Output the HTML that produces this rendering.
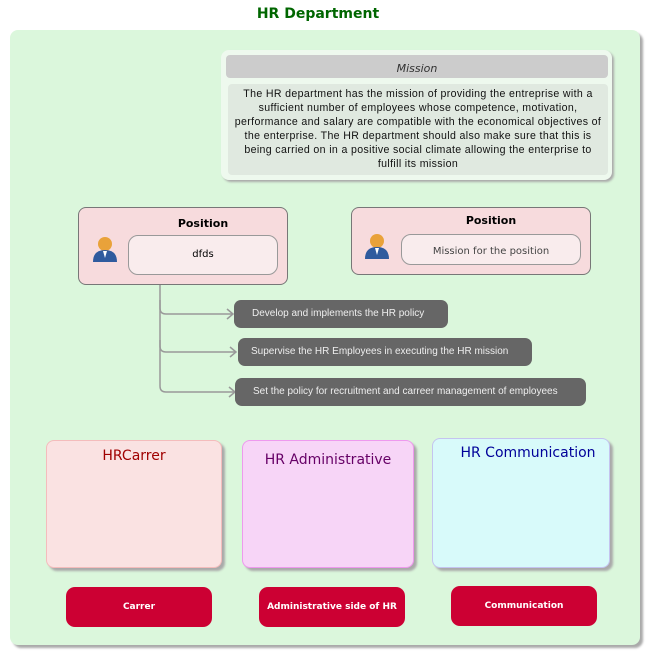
<!DOCTYPE html>
<html><head><style>
body{margin:0;width:655px;height:661px;background:#fff;font-family:"DejaVu Sans","Liberation Sans",sans-serif;position:relative;overflow:hidden}
div{position:absolute;box-sizing:border-box}
.t{text-align:center}
.pill{background:#666;color:#eee;border-radius:7px;font-family:"Liberation Sans",sans-serif;font-size:10px;line-height:27px;padding-left:18px;height:28px}
.big{border-radius:8px;box-shadow:3px 3px 2px #aaa}
.btn{background:#cc0033;color:#fff;border-radius:9px;font-weight:bold;font-size:9px;text-align:center;line-height:40px;height:40px;width:146px}
</style></head><body>
<div class="t" style="left:0;width:636px;top:6px;color:#006600;font-weight:bold;font-size:14px">HR Department</div>
<div style="left:10px;top:30px;width:630px;height:615px;background:#dbf7dc;border-radius:8px;box-shadow:3px 3px 2px #aaa"></div>
<div style="left:221px;top:50px;width:391px;height:130px;background:#eef9ee;border-radius:8px;box-shadow:2px 2px 2px #aaa"></div>
<div class="t" style="left:226px;top:55px;width:382px;height:23px;background:#ccc;border-radius:4px;font-style:italic;font-size:11px;line-height:28px;color:#333">Mission</div>
<div class="t" style="left:228px;top:84px;width:380px;height:91px;background:#e0e9e0;border-radius:4px;font-family:'Liberation Sans',sans-serif;font-size:10.6px;letter-spacing:0.35px;line-height:14px;padding:3px 5px 0;color:#111">The HR department has the mission of providing the entreprise with a sufficient number of employees whose competence, motivation, performance and salary are compatible with the economical objectives of the enterprise. The HR department should also make sure that this is being carried on in a positive social climate allowing the enterprise to fulfill its mission</div>

<div style="left:78px;top:207px;width:210px;height:78px;background:#f7dbdd;border:1px solid #777;border-radius:8px"></div>
<div class="t" style="left:128px;top:217px;width:150px;font-weight:bold;font-size:11px">Position</div>
<div class="t" style="left:128px;top:235px;width:150px;height:40px;background:#f9eced;border:1px solid #999;border-radius:10px;font-size:10px;line-height:38px">dfds</div>
<div style="left:351px;top:207px;width:240px;height:68px;background:#f7dbdd;border:1px solid #777;border-radius:8px"></div>
<div class="t" style="left:401px;top:214px;width:180px;font-weight:bold;font-size:11px">Position</div>
<div class="t" style="left:401px;top:234px;width:180px;height:31px;background:#f9eced;border:1px solid #999;border-radius:10px;font-size:10px;line-height:34px;color:#444">Mission for the position</div>

<svg style="position:absolute;left:0;top:0" width="655" height="661">
<g id="p"><circle cx="105" cy="244" r="7" fill="#e9a23a"/><path d="M93 262 q0-12 12-12 q12 0 12 12z" fill="#2f5b9e"/><path d="M103 251 l2 7 l2-7z" fill="#fff"/></g>
<use href="#p" x="272" y="-3"/>
<g stroke="#999" stroke-width="1.5" fill="none">
<path d="M160 285 V308 q0 6 6 6 H233 M227 309 l6 5 l-6 5"/>
<path d="M160 300 V346 q0 6 6 6 H236 M230 347 l6 5 l-6 5"/>
<path d="M160 340 V386 q0 6 6 6 H235 M229 387 l6 5 l-6 5"/>
</g></svg>
<div class="pill" style="left:234px;top:300px;width:214px">Develop and implements the HR policy</div>
<div class="pill" style="left:238px;top:338px;width:294px;padding-left:13px">Supervise the HR Employees in executing the HR mission</div>
<div class="pill" style="left:235px;top:378px;width:351px">Set the policy for recruitment and carreer management of employees</div>

<div class="big t" style="left:46px;top:440px;width:176px;height:128px;background:#fae2e2;border:1px solid #f4bcbc;color:#a00000;font-size:14px;padding-top:7px">HRCarrer</div>
<div class="big t" style="left:242px;top:440px;width:172px;height:128px;background:#f7d5f7;border:1px solid #ee99ee;color:#660066;font-size:14px;padding-top:11px">HR Administrative</div>
<div class="big t" style="left:432px;top:438px;width:178px;height:130px;background:#d8fafa;border:1px solid #c4c4f0;color:#000099;font-size:14px;padding-top:6px;padding-left:14px">HR Communication</div>

<div class="btn" style="left:66px;top:587px">Carrer</div>
<div class="btn" style="left:259px;top:587px">Administrative side of HR</div>
<div class="btn" style="left:451px;top:586px">Communication</div>
</body></html>
